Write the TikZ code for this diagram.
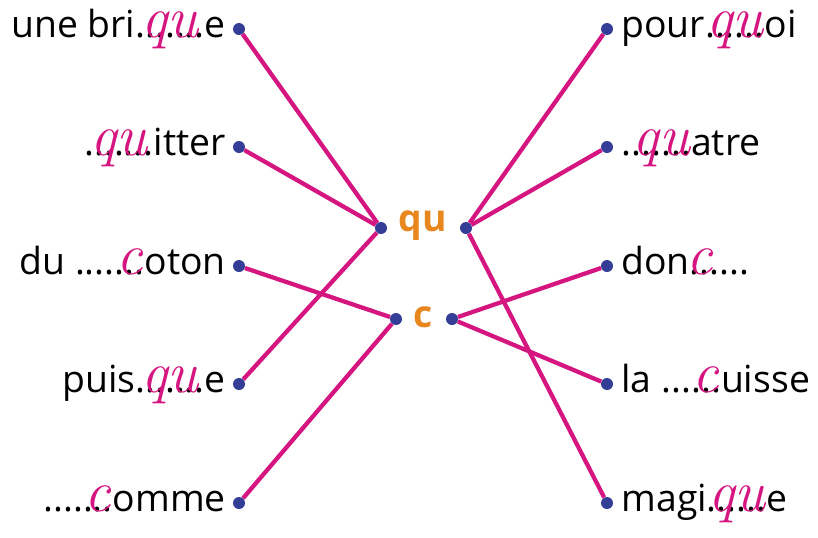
\documentclass[tikz,border=0pt]{standalone}
\usepackage{fontspec}
\setmainfont{Open Sans}
\newfontfamily\manuscrit{Latin Modern Roman}
\usetikzlibrary{positioning}

\definecolor{trait}{RGB}{214,22,128}
\definecolor{point}{RGB}{52,62,150}
\definecolor{son}{RGB}{232,135,30}

% lettres manuscrites posees sur les pointilles
\newcommand\trou[2]{\ooalign{#1\cr\hidewidth\smash{\textcolor{trait}{\manuscrit\itshape\fontsize{44}{44}\selectfont #2}}\hidewidth\cr}}

\begin{document}
\begin{tikzpicture}[
  x=0.75pt, y=-0.75pt,
  dot/.style={circle, fill=point, inner sep=0pt, minimum size=9pt},
  mot/.style={font=\fontsize{28}{30}\selectfont, inner sep=0pt},
  gauche/.style={mot, anchor=base east},
  droite/.style={mot, anchor=base west},
  sonbox/.style={text=son, font=\bfseries\fontsize{28}{30}\selectfont, inner sep=0pt},
  lien/.style={draw=trait, line width=3.2pt}]

  \useasboundingbox (0,0) rectangle (818,537);

  % centre
  \node[sonbox] (qu) at (423,226) {qu};
  \node[sonbox] (c) at (423,317) {c};
  \node[dot] (quL) at (381,228) {};
  \node[dot] (quR) at (466,228) {};
  \node[dot] (cL) at (396,319) {};
  \node[dot] (cR) at (452,319) {};

  % colonne de gauche
  \node[dot] (g1) at (239,29) {};
  \node[dot] (g2) at (239,147) {};
  \node[dot] (g3) at (239,266) {};
  \node[dot] (g4) at (239,384) {};
  \node[dot] (g5) at (239,503) {};
  \node[gauche] (brique) at ([xshift=-5pt,yshift=-6pt]g1.west) {une bri\trou{.......}{qu}e};
  \node[gauche] (quitter) at ([xshift=-5pt,yshift=-6pt]g2.west) {\trou{.......}{qu}itter};
  \node[gauche] (coton) at ([xshift=-5pt,yshift=-6pt]g3.west) {du ....\trou{...}{c}oton};
  \node[gauche] (puisque) at ([xshift=-5pt,yshift=-6pt]g4.west) {puis\trou{.......}{qu}e};
  \node[gauche] (comme) at ([xshift=-5pt,yshift=-6pt]g5.west) {....\trou{...}{c}omme};

  % colonne de droite
  \node[dot] (d1) at (607,29) {};
  \node[dot] (d2) at (607,147) {};
  \node[dot] (d3) at (607,266) {};
  \node[dot] (d4) at (607,384) {};
  \node[dot] (d5) at (607,503) {};
  \node[droite] (pourquoi) at ([xshift=6pt,yshift=-6pt]d1.east) {pour\trou{......}{qu}oi};
  \node[droite] (quatre) at ([xshift=6pt,yshift=-6pt]d2.east) {.\trou{......}{qu}atre};
  \node[droite] (donc) at ([xshift=6pt,yshift=-6pt]d3.east) {don\trou{..}{c}....};
  \node[droite] (cuisse) at ([xshift=6pt,yshift=-6pt]d4.east) {la ...\trou{...}{c}uisse};
  \node[droite] (magique) at ([xshift=6pt,yshift=-6pt]d5.east) {magi\trou{......}{qu}e};

  % liaisons
  \draw[lien] (g1) -- (quL);
  \draw[lien] (g2) -- (quL);
  \draw[lien] (g3) -- (cL);
  \draw[lien] (g4) -- (quL);
  \draw[lien] (g5) -- (cL);
  \draw[lien] (d1) -- (quR);
  \draw[lien] (d2) -- (quR);
  \draw[lien] (d3) -- (cR);
  \draw[lien] (d4) -- (cR);
  \draw[lien] (d5) -- (quR);
\end{tikzpicture}
\end{document}
